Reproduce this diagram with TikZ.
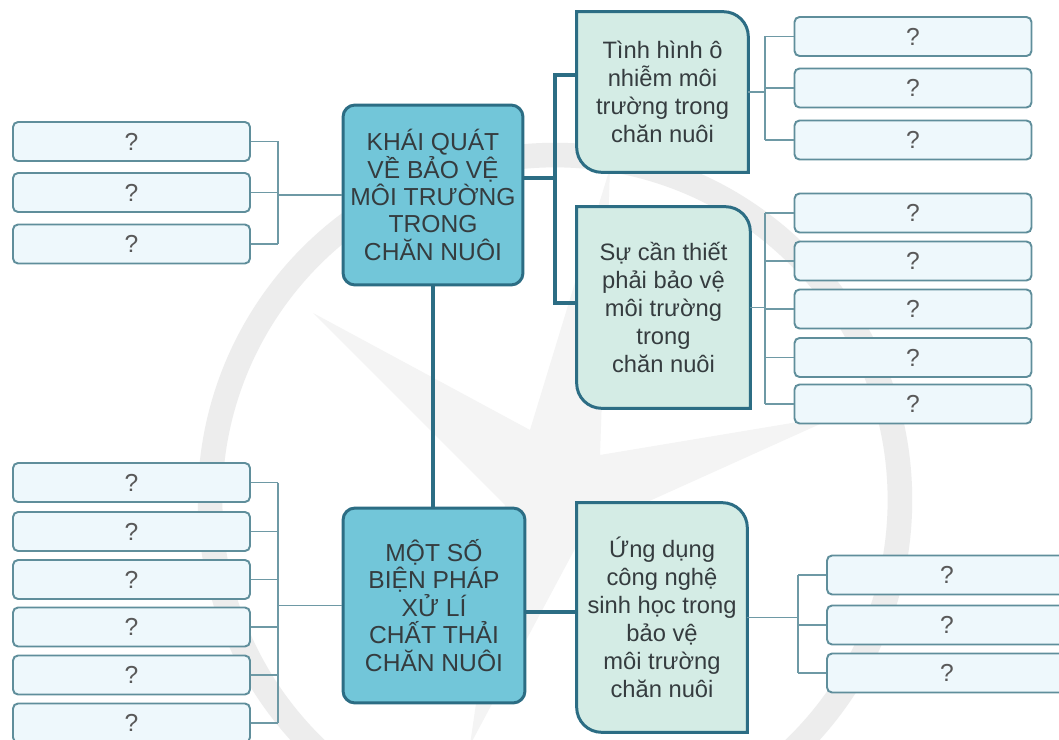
\documentclass[tikz,border=0pt]{standalone}
\usepackage{fontspec}
\setmainfont{Liberation Sans}
\usetikzlibrary{positioning}
\usetikzlibrary{backgrounds}

\definecolor{deepteal}{HTML}{2C6D84}
\definecolor{maincyan}{HTML}{72C6D9}
\definecolor{mintfill}{HTML}{D4ECE5}
\definecolor{askfill}{HTML}{EEF8FC}
\definecolor{askedge}{HTML}{5F8E9B}
\definecolor{twigcol}{HTML}{6E99A5}
\definecolor{inkgray}{HTML}{353C3F}

\tikzset{
    mainbox/.style={draw=deepteal,line width=1.7pt,fill=maincyan,rounded corners=0.24cm,
        align=center,text=inkgray,font=\fontsize{14}{15.6}\selectfont,inner sep=0pt},
    leafbox/.style={align=center,text=inkgray,font=\fontsize{13.5}{15.9}\selectfont,inner sep=0pt},
    subframe/.style={draw=deepteal,line width=1.7pt,fill=mintfill},
    askbox/.style={draw=askedge,line width=1.1pt,fill=askfill,rounded corners=0.1cm,
        minimum width=4.74cm,minimum height=0.78cm,inner sep=0pt,
        text=gray!70!black,font=\fontsize{14}{16}\selectfont},
    mainline/.style={draw=deepteal,line width=2.2pt},
    twig/.style={draw=twigcol,line width=1.1pt}
}

% frame with two rounded corners (top right, bottom left)
\newcommand\leafframe[1]{%
    \path[subframe] (#1.north west) -- ([xshift=-0.5cm]#1.north east)
        arc[start angle=90,end angle=0,radius=0.5cm] -- (#1.south east)
        -- ([xshift=0.5cm]#1.south west)
        arc[start angle=270,end angle=180,radius=0.5cm] -- cycle;}

\begin{document}
\begin{tikzpicture}[x=0.02cm,y=-0.02cm]
    \useasboundingbox (0,0) rectangle (1059,740);

    \begin{scope}[on background layer]
        \fill[white] (0,0) rectangle (1059,740);
        % faint logo behind the map
        \fill[gray!9] (313,313) -- (530,430) -- (610,168) -- (600,455) -- (840,415)
            -- (585,530) -- (470,745) -- (505,505) -- cycle;
        \draw[gray!14,line width=14pt] (555,500) circle[radius=6.9cm];
    \end{scope}

    % main topics
    \node[mainbox,minimum width=3.6cm,minimum height=3.6cm] (khaiquat) at (433,195)
        {KHÁI QUÁT\\VỀ BẢO VỆ\\MÔI TRƯỜNG\\TRONG\\CHĂN NUÔI};
    \node[mainbox,minimum width=3.64cm,minimum height=3.9cm] (motso) at (434,605.5)
        {MỘT SỐ\\BIỆN PHÁP\\XỬ LÍ\\CHẤT THẢI\\CHĂN NUÔI};

    % sub topics
    \node[leafbox,minimum width=3.42cm,minimum height=3.2cm] (tinh) at (662.5,92)
        {Tình hình ô\\nhiễm môi\\trường trong\\chăn nuôi};
    \node[leafbox,minimum width=3.46cm,minimum height=4.02cm] (can) at (663.5,307.5)
        {Sự cần thiết\\phải bảo vệ\\môi trường\\trong\\chăn nuôi};
    \node[leafbox,minimum width=3.4cm,minimum height=4.58cm] (ung) at (662,617.5)
        {Ứng dụng\\công nghệ\\sinh học trong\\bảo vệ\\môi trường\\chăn nuôi};
    \begin{scope}[on background layer]
        \leafframe{tinh}
        \leafframe{can}
        \leafframe{ung}
    \end{scope}

    % thick links
    \coordinate (kqfork) at (555,178);
    \draw[mainline] (khaiquat.east |- kqfork) -- (kqfork);
    \draw[mainline] ([yshift=0.34cm]tinh.west) -| (kqfork) |- ([yshift=0.09cm]can.west);
    \draw[mainline] (khaiquat.south) -- (khaiquat.south |- motso.north);
    \draw[mainline] ([yshift=-0.13cm]motso.east) -- ([yshift=-0.13cm]motso.east -| ung.west);

    % question boxes
    \coordinate (lforkA) at (278,0);
    \coordinate (lforkB) at (278,0);
    \coordinate (rforkA) at (765,0);
    \coordinate (rforkB) at (765,0);
    \coordinate (rforkC) at (798,0);

    \foreach \i/\y in {1/141.5,2/192.5,3/244}
        \node[askbox] (la\i) at (131.5,\y) {?};
    \foreach \i/\y in {1/482.5,2/531.5,3/579.5,4/627,5/675,6/723}
        \node[askbox] (lb\i) at (131.5,\y) {?};
    \foreach \i/\y in {1/36.5,2/88,3/140}
        \node[askbox] (ra\i) at (913,\y) {?};
    \foreach \i/\y in {1/213,2/261,3/309,4/357.5,5/404}
        \node[askbox] (rb\i) at (913,\y) {?};
    \foreach \i/\y in {1/575,2/625,3/673}
        \node[askbox,minimum width=4.8cm] (rc\i) at (947,\y) {?};

    % thin brackets
    \foreach \i in {1,2,3}
        \draw[twig] (la\i.east) -- (la\i.east -| lforkA);
    \draw[twig] (la1.east -| lforkA) -- (la3.east -| lforkA);
    \draw[twig] (khaiquat.west -| lforkA) -- (khaiquat.west);

    \foreach \i in {1,...,6}
        \draw[twig] (lb\i.east) -- (lb\i.east -| lforkB);
    \draw[twig] (lb1.east -| lforkB) -- (lb6.east -| lforkB);
    \draw[twig] (motso.west -| lforkB) -- (motso.west);

    \foreach \i in {1,2,3}
        \draw[twig] (ra\i.west) -- (ra\i.west -| rforkA);
    \draw[twig] (ra1.west -| rforkA) -- (ra3.west -| rforkA);
    \draw[twig] (tinh.east) -- (tinh.east -| rforkA);

    \foreach \i in {1,...,5}
        \draw[twig] (rb\i.west) -- (rb\i.west -| rforkB);
    \draw[twig] (rb1.west -| rforkB) -- (rb5.west -| rforkB);
    \draw[twig] (can.east) -- (can.east -| rforkB);

    \foreach \i in {1,2,3}
        \draw[twig] (rc\i.west) -- (rc\i.west -| rforkC);
    \draw[twig] (rc1.west -| rforkC) -- (rc3.west -| rforkC);
    \draw[twig] (ung.east) -- (ung.east -| rforkC);
\end{tikzpicture}
\end{document}
